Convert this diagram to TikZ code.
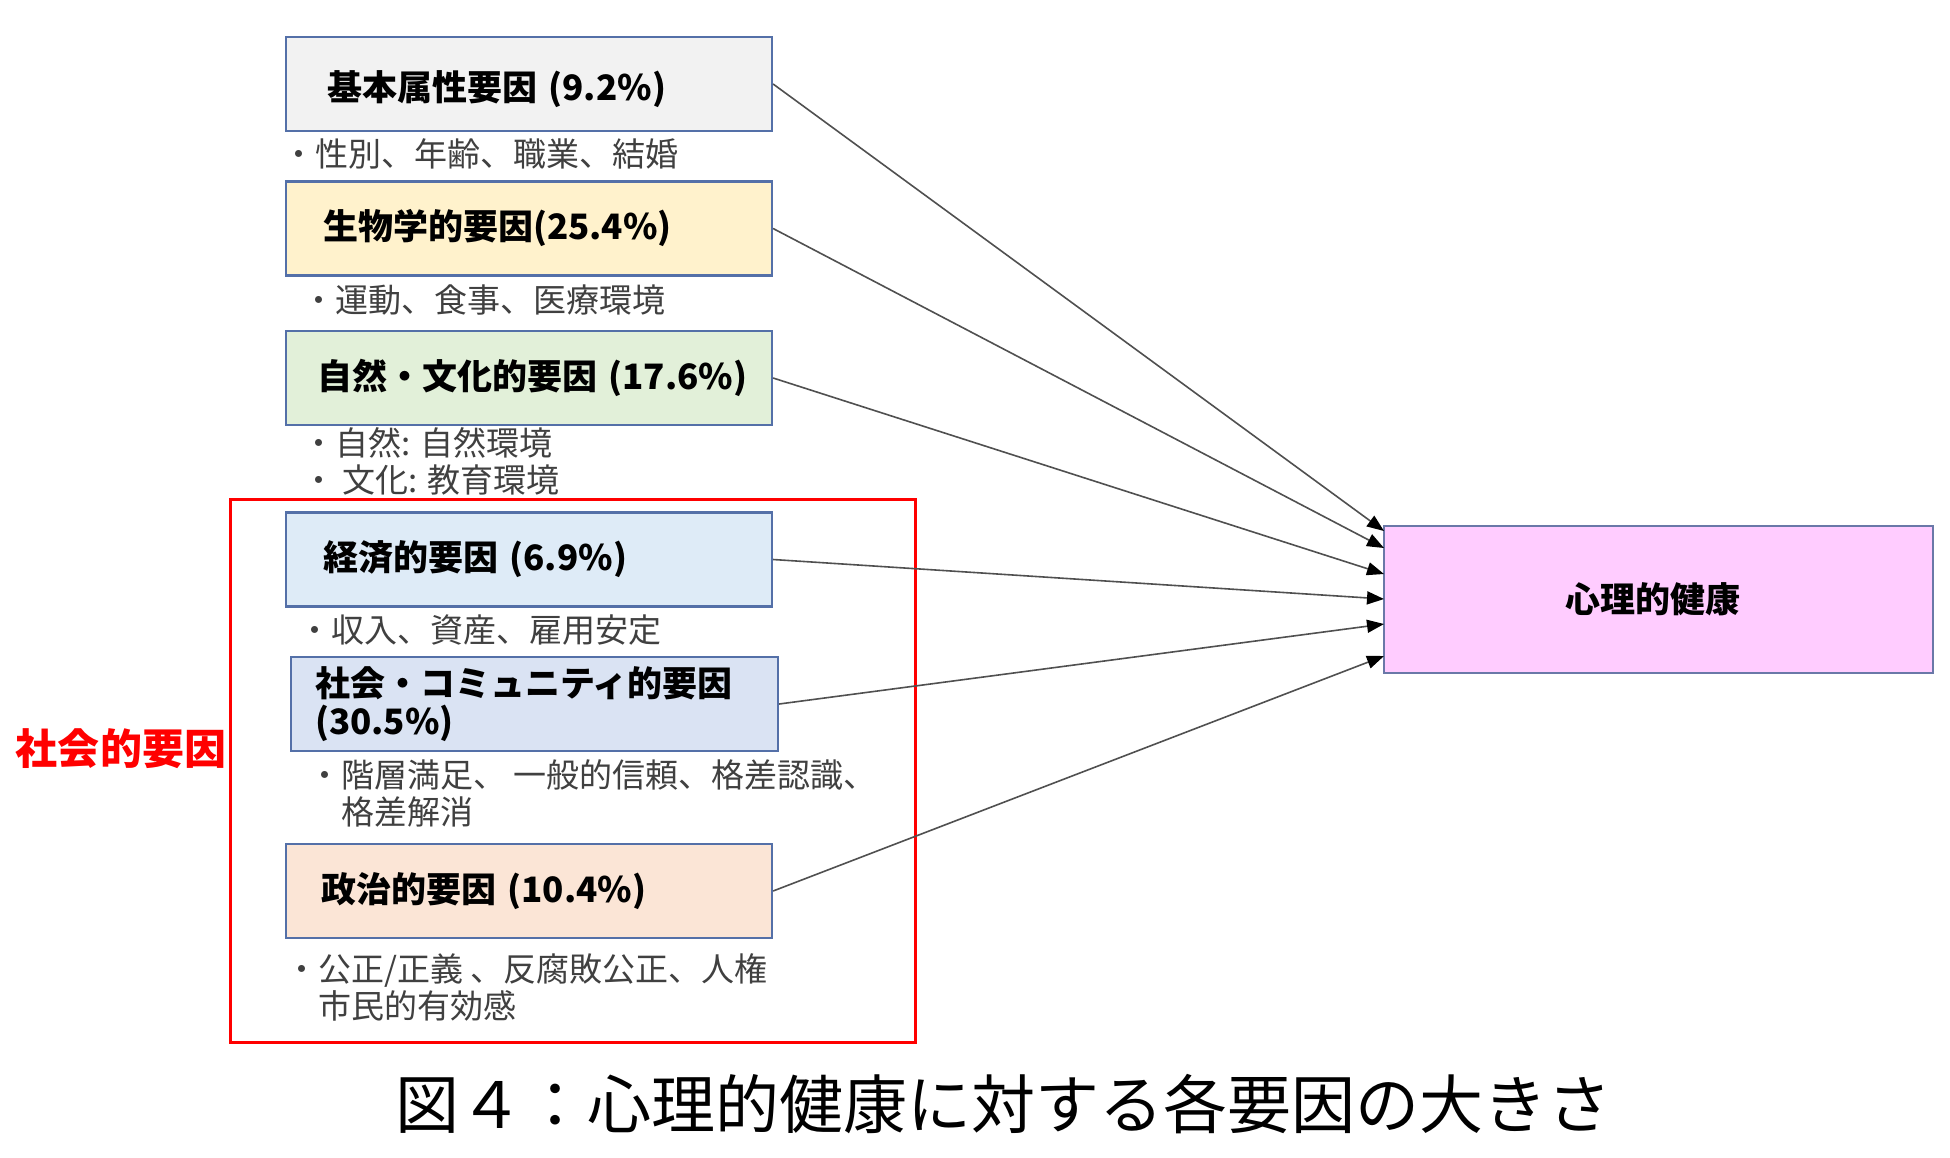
\documentclass[tikz,border=0pt]{standalone}
\usepackage{fontspec}
\setmainfont{Noto Sans CJK JP}
\usetikzlibrary{arrows.meta}
\definecolor{c1}{HTML}{F2F2F2}
\definecolor{c2}{HTML}{FFF2CC}
\definecolor{c3}{HTML}{E2F0D9}
\definecolor{c4}{HTML}{DEEBF7}
\definecolor{c5}{HTML}{DAE3F3}
\definecolor{c6}{HTML}{FBE5D6}
\definecolor{tc}{HTML}{FFCCFF}
\definecolor{bordc}{HTML}{5470A8}
\definecolor{tbordc}{HTML}{6A78A8}
\definecolor{subc}{HTML}{404040}
\definecolor{arrc}{HTML}{505050}
\definecolor{redc}{HTML}{FF0000}
\begin{document}
\begin{tikzpicture}[x=1pt,y=-1pt,
  fbox/.style={draw=bordc, line width=2.2pt, minimum height=94pt, align=left,
    font=\fontsize{35}{38}\selectfont\bfseries, inner ysep=0pt},
  sub/.style={anchor=west, inner sep=0pt, align=left, text=subc,
    font=\fontsize{33}{37}\selectfont},
  arr/.style={draw=arrc, line width=1.6pt, -{Triangle[length=17pt,width=13pt,color=black]}}]
\useasboundingbox (0,0) rectangle (1950,1157);
\fill[white] (0,0) rectangle (1950,1157);

% group frame
\node[draw=redc, line width=3pt, minimum width=685pt, minimum height=543pt, inner sep=0pt] (grp) at (572.5,770.5) {};
\node[text=redc, font=\fontsize{42}{46}\selectfont\bfseries, inner sep=0pt] (grplab) at (121,749) {社会的要因};

% factor boxes
\node[fbox, fill=c1, inner xsep=41pt, text width=404pt] (b1) at (529,84) {\raisebox{-5pt}[\height][\depth]{基本属性要因 (9.2\%)}};
\node[fbox, fill=c2, inner xsep=37pt, text width=412pt] (b2) at (529,228.5) {生物学的要因(25.4\%)};
\node[fbox, fill=c3, inner xsep=31pt, text width=424pt] (b3) at (529,378) {\mbox{自然・文化的要因 (17.6\%)}};
\node[fbox, fill=c4, inner xsep=37pt, text width=412pt] (b4) at (529,559.5) {経済的要因 (6.9\%)};
\node[fbox, fill=c5, inner xsep=24pt, text width=439pt] (b5) at (534.5,704) {社会・コミュニティ的要因\\(30.5\%)};
\node[fbox, fill=c6, inner xsep=35pt, text width=416pt] (b6) at (529,891) {政治的要因 (10.4\%)};

% descriptions
\node[sub] (d1) at (282,154) {・性別、年齢、職業、結婚};
\node[sub] (d2) at (302,300) {・運動、食事、医療環境};
\node[sub] (d3) at (302,461.5) {・自然: 自然環境\\・ 文化: 教育環境};
\node[sub] (d4) at (298,630) {・収入、資産、雇用安定};
\node[sub] (d5) at (308,793) {・階層満足、 一般的信頼、格差認識、\\\phantom{・}格差解消};
\node[sub] (d6) at (285,987) {・公正/正義 、反腐敗公正、人権\\\phantom{・}市民的有効感};

% target
\node[draw=tbordc, line width=2.2pt, fill=tc, minimum width=549pt, minimum height=147pt,
  font=\fontsize{35}{38}\selectfont\bfseries] (tgt) at (1658.5,599.5) {\hspace*{-12pt}心理的健康};

\coordinate (e1) at (1384,531);
\coordinate (e2) at (1384,548);
\coordinate (e3) at (1384,574);
\coordinate (e4) at (1384,599);
\coordinate (e5) at (1384,624);
\coordinate (e6) at (1384,656);

\draw[arr] (b1.east) -- (e1);
\draw[arr] (b2.east) -- (e2);
\draw[arr] (b3.east) -- (e3);
\draw[arr] (b4.east) -- (e4);
\draw[arr] (b5.east) -- (e5);
\draw[arr] (b6.east) -- (e6);

% caption
\node[font=\fontsize{64}{70}\selectfont, inner sep=0pt] (cap) at (1003,1104) {図４：心理的健康に対する各要因の大きさ};
\end{tikzpicture}
\end{document}
